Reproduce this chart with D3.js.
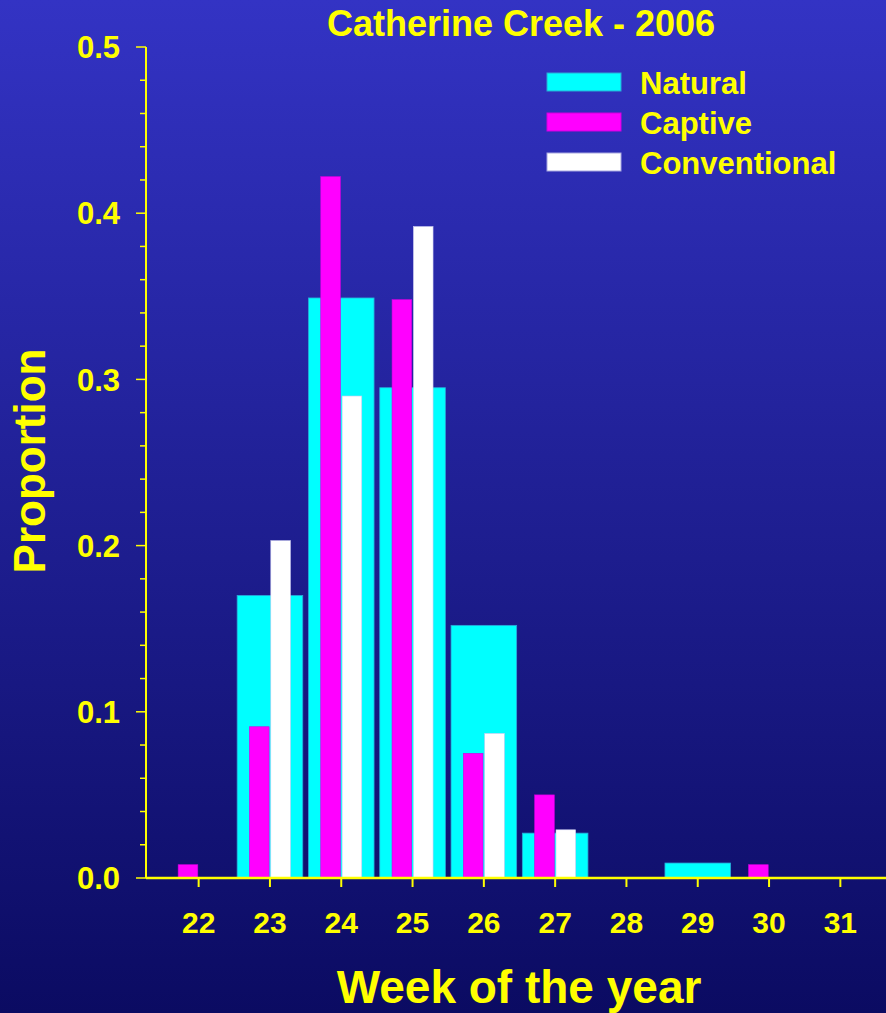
<!DOCTYPE html>
<html>
<head>
<meta charset="utf-8">
<script src="https://cdn.jsdelivr.net/npm/d3@7"></script>
<style>
    html, body { margin:0; padding:0; background:#0c0c64; }
    svg { display:block; }
</style>
</head>
<body>
<div id="chart"></div>
<script>
// data
const weeks = ["22", "23", "24", "25", "26", "27", "28", "29", "30", "31"];
const natural = [0, 0.170, 0.349, 0.295, 0.152, 0.027, 0, 0.009, 0, 0];
const captive = [0.008, 0.091, 0.422, 0.348, 0.075, 0.050, 0, 0, 0.008, 0];
const conventional = [0, 0.203, 0.290, 0.392, 0.087, 0.029, 0, 0, 0, 0];
const yTicks = [0, 0.1, 0.2, 0.3, 0.4, 0.5];
const seriesNames = ["Natural", "Captive", "Conventional"];

const COLOURS = { NATURAL:"#00ffff", CAPTIVE:"#ff00ff", CONVENTIONAL:"#ffffff", YELLOW:"#ffff00" };
const FONT = "'Liberation Sans', Arial, Helvetica, sans-serif";

const width = 886;
const height = 1013;
const margin = { left:146, right:10, top:47, bottom:135 };
const contentsHeight = height - margin.top - margin.bottom;

const svg = d3.select("#chart").append("svg")
    .attr("width", width)
    .attr("height", height);

//bg gradient
const grad = svg.append("defs").append("linearGradient")
    .attr("id", "bg-grad")
    .attr("x1", 0).attr("y1", 0).attr("x2", 0).attr("y2", 1);
grad.append("stop").attr("offset", "0%").attr("stop-color", "#3333c4");
grad.append("stop").attr("offset", "100%").attr("stop-color", "#0b0b62");
svg.append("rect")
    .attr("width", width)
    .attr("height", height)
    .attr("fill", "url(#bg-grad)");

//scales
const x = d3.scaleBand()
    .domain(weeks)
    .range([163, 876])
    .paddingInner(0.08)
    .paddingOuter(0.04);

const xSub = d3.scaleBand()
    .domain(["captive", "conventional"])
    .range([-20.5, 20.5])
    .paddingInner(0.08);

const y = d3.scaleLinear()
    .domain([0, 0.5])
    .range([margin.top + contentsHeight, margin.top]);

const contentsG = svg.append("g").attr("class", "chart-contents");

//natural bars (wide, behind)
contentsG.selectAll("rect.natural")
    .data(weeks.map((w, i) => ({ week:w, value:natural[i] })).filter(d => d.value > 0))
    .enter()
    .append("rect")
        .attr("class", "natural")
        .attr("x", d => x(d.week))
        .attr("y", d => y(d.value))
        .attr("width", x.bandwidth())
        .attr("height", d => y(0) - y(d.value))
        .attr("fill", COLOURS.NATURAL)
        .attr("stroke", "#2aa8d8")
        .attr("stroke-width", 0.8);

//captive + conventional bars (narrow, in front)
const narrowSeries = [
    { key:"captive", values:captive, colour:COLOURS.CAPTIVE, stroke:"#d000e0" },
    { key:"conventional", values:conventional, colour:COLOURS.CONVENTIONAL, stroke:"#c8c8f0" }
];
narrowSeries.forEach(s => {
    contentsG.selectAll(`rect.${s.key}`)
        .data(weeks.map((w, i) => ({ week:w, value:s.values[i] })).filter(d => d.value > 0))
        .enter()
        .append("rect")
            .attr("class", s.key)
            .attr("x", d => x(d.week) + x.bandwidth() / 2 + xSub(s.key))
            .attr("y", d => y(d.value))
            .attr("width", xSub.bandwidth())
            .attr("height", d => y(0) - y(d.value))
            .attr("fill", s.colour)
            .attr("stroke", s.stroke)
            .attr("stroke-width", 0.6);
});

//axes
const axisG = svg.append("g").attr("class", "axes");

//y axis line + ticks
axisG.append("line")
    .attr("x1", margin.left).attr("x2", margin.left)
    .attr("y1", y(0.5)).attr("y2", y(0))
    .attr("stroke", COLOURS.YELLOW)
    .attr("stroke-width", 2);

const minorTicks = d3.range(0, 51, 2).map(v => v / 100);
axisG.selectAll("line.y-tick")
    .data(minorTicks)
    .enter()
    .append("line")
        .attr("class", "y-tick")
        .attr("x1", d => Math.round(d * 100) % 10 === 0 ? margin.left - 10 : margin.left - 6)
        .attr("x2", margin.left)
        .attr("y1", d => y(d))
        .attr("y2", d => y(d))
        .attr("stroke", COLOURS.YELLOW)
        .attr("stroke-width", 1.5);

axisG.selectAll("text.y-label")
    .data(yTicks)
    .enter()
    .append("text")
        .attr("class", "y-label")
        .attr("x", 120)
        .attr("y", d => y(d))
        .attr("dy", "0.36em")
        .attr("text-anchor", "end")
        .attr("font-family", FONT)
        .attr("font-weight", "bold")
        .attr("font-size", 31)
        .attr("fill", COLOURS.YELLOW)
        .text(d => d.toFixed(1));

//x axis line + ticks
axisG.append("line")
    .attr("x1", margin.left).attr("x2", width)
    .attr("y1", y(0)).attr("y2", y(0))
    .attr("stroke", COLOURS.YELLOW)
    .attr("stroke-width", 2.5);

axisG.selectAll("line.x-tick")
    .data(weeks)
    .enter()
    .append("line")
        .attr("class", "x-tick")
        .attr("x1", d => x(d) + x.bandwidth() / 2)
        .attr("x2", d => x(d) + x.bandwidth() / 2)
        .attr("y1", y(0))
        .attr("y2", y(0) + 9)
        .attr("stroke", COLOURS.YELLOW)
        .attr("stroke-width", 2);

axisG.selectAll("text.x-label")
    .data(weeks)
    .enter()
    .append("text")
        .attr("class", "x-label")
        .attr("x", d => x(d) + x.bandwidth() / 2)
        .attr("y", 933)
        .attr("text-anchor", "middle")
        .attr("font-family", FONT)
        .attr("font-weight", "bold")
        .attr("font-size", 30)
        .attr("fill", COLOURS.YELLOW)
        .text(d => d);

//titles
svg.append("text")
    .attr("x", 521)
    .attr("y", 36)
    .attr("text-anchor", "middle")
    .attr("font-family", FONT)
    .attr("font-weight", "bold")
    .attr("font-size", 36)
    .attr("fill", COLOURS.YELLOW)
    .text("Catherine Creek - 2006");

svg.append("text")
    .attr("x", 519)
    .attr("y", 1003)
    .attr("text-anchor", "middle")
    .attr("font-family", FONT)
    .attr("font-weight", "bold")
    .attr("font-size", 46)
    .attr("fill", COLOURS.YELLOW)
    .text("Week of the year");

svg.append("text")
    .attr("transform", "translate(45, 461) rotate(-90)")
    .attr("text-anchor", "middle")
    .attr("font-family", FONT)
    .attr("font-weight", "bold")
    .attr("font-size", 44)
    .attr("fill", COLOURS.YELLOW)
    .text("Proportion");

//legend
const legendColours = [COLOURS.NATURAL, COLOURS.CAPTIVE, COLOURS.CONVENTIONAL];
const legendStrokes = ["#2aa8d8", "#d000e0", "#a8a8e0"];
const legendG = svg.append("g")
    .attr("class", "legend")
    .attr("transform", "translate(547, 73)");

const itemG = legendG.selectAll("g.legend-item")
    .data(seriesNames)
    .enter()
    .append("g")
        .attr("class", "legend-item")
        .attr("transform", (d, i) => `translate(0, ${i * 40})`);

itemG.append("rect")
    .attr("width", 74)
    .attr("height", 18)
    .attr("fill", (d, i) => legendColours[i])
    .attr("stroke", (d, i) => legendStrokes[i])
    .attr("stroke-width", 1);

itemG.append("text")
    .attr("x", 93)
    .attr("y", 21)
    .attr("font-family", FONT)
    .attr("font-weight", "bold")
    .attr("font-size", 31)
    .attr("fill", COLOURS.YELLOW)
    .text(d => d);
</script>
</body>
</html>
